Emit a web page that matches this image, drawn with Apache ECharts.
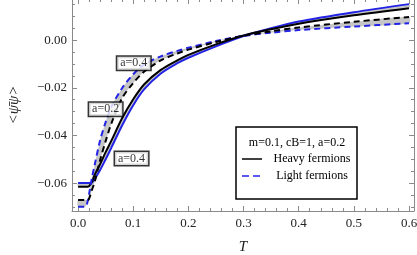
<!DOCTYPE html>
<html><head><meta charset="utf-8">
<script src="https://cdn.jsdelivr.net/npm/echarts@6/dist/echarts.min.js"></script>
<style>html,body{margin:0;padding:0;background:#fff}#c{width:417px;height:255px}</style>
</head><body><div id="c"></div>
<script>
const T        = [0, 0.013, 0.018, 0.02, 0.025, 0.03, 0.04, 0.05, 0.06, 0.08, 0.1, 0.12, 0.15, 0.18, 0.2, 0.25, 0.3, 0.35, 0.4, 0.5, 0.6];
const heavyA02 = [-0.0615, -0.0615, -0.0615, -0.0613, -0.0596, -0.0566, -0.052, -0.047, -0.0424, -0.0327, -0.0248, -0.0185, -0.0125, -0.0085, -0.0062, -0.0018, 0.0019, 0.0046, 0.0069, 0.0104, 0.0134];
const heavyA04 = [-0.0599, -0.0599, -0.0599, -0.0599, -0.0597, -0.0583, -0.0545, -0.050, -0.0453, -0.0357, -0.0273, -0.0206, -0.0140, -0.0097, -0.0074, -0.0026, 0.0017, 0.0050, 0.0078, 0.0117, 0.0151];
const lightA02 = [-0.0671, -0.0671, -0.0671, -0.0665, -0.063, -0.0596, -0.0503, -0.0424, -0.0352, -0.0243, -0.018, -0.0132, -0.0085, -0.0056, -0.0040, -0.0008, 0.0018, 0.0037, 0.0053, 0.0077, 0.0097];
const lightA04 = [-0.0699, -0.0699, -0.067, -0.0645, -0.058, -0.0525, -0.042, -0.0344, -0.0281, -0.0201, -0.0143, -0.0102, -0.0068, -0.0045, -0.0032, -0.0004, 0.0018, 0.0031, 0.0042, 0.0057, 0.0071];

const xMajorTicks = [0, 0.1, 0.2, 0.3, 0.4, 0.5, 0.6];
const xMinorTicks = [0.02,0.04,0.06,0.08,0.12,0.14,0.16,0.18,0.22,0.24,0.26,0.28,0.32,0.34,0.36,0.38,0.42,0.44,0.46,0.48,0.52,0.54,0.56,0.58];
const yMajorTicks = [-0.06, -0.04, -0.02, 0];
const yMinorTicks = [-0.07,-0.065,-0.055,-0.05,-0.045,-0.035,-0.03,-0.025,-0.015,-0.01,-0.005,0.005,0.01,0.015];
const curveLabels = [[0.101, -0.0097, 'a=0.4'], [0.05, -0.029, 'a=0.2'], [0.097, -0.0497, 'a=0.4']];
const legendTitle = 'm=0.1, cB=1, a=0.2';
const legendNames = ['Heavy fermions', 'Light fermions'];
const xTitle = 'T';
const yTitle = '<\u03C8\u0304\u03C8>';

const XMIN = -0.011, XMAX = 0.609, YMIN = -0.0717, YMAX = 0.01725;
const SERIF = 'Liberation Serif';
const FRAME = '#8a8a8a';
const BLUE = '#2323e6';
const BAND = '#c6c6c6';
const SMOOTH = 0.3;

const chart = echarts.init(document.getElementById('c'), null, {renderer:'canvas'});

function fmt(v){ const s = Math.abs(v).toFixed(2); return (v < -1e-9 ? '\u2212' : '') + s; }

function xAx(grid, pos, major){
  return {
    type:'value', gridIndex:grid, position:pos, min:XMIN, max:XMAX,
    axisLine:{show:major, onZero:false, lineStyle:{color:FRAME, width:1}},
    axisTick:{show:true, inside:true, length: major?5:3, customValues: major?xMajorTicks:xMinorTicks, lineStyle:{color:FRAME, width:1}},
    axisLabel:{show: major && pos==='bottom', customValues:xMajorTicks, formatter:v=>v.toFixed(1), fontFamily:SERIF, fontSize:13, color:'#222', margin:6},
    splitLine:{show:false},
    name: (major && pos==='bottom') ? xTitle : '',
    nameLocation:'middle', nameGap:29,
    nameTextStyle:{fontFamily:SERIF, fontStyle:'italic', fontSize:15, color:'#222'}
  };
}
function yAx(grid, pos, major){
  return {
    type:'value', gridIndex:grid, position:pos, min:YMIN, max:YMAX,
    axisLine:{show:major, onZero:false, lineStyle:{color:FRAME, width:1}},
    axisTick:{show:true, inside:true, length: major?5:3, customValues: major?yMajorTicks:yMinorTicks, lineStyle:{color:FRAME, width:1}},
    axisLabel:{show: major && pos==='left', customValues:yMajorTicks, formatter:fmt, fontFamily:SERIF, fontSize:13, color:'#222', margin:5},
    splitLine:{show:false},
    name: (major && pos==='left') ? yTitle : '',
    nameLocation:'middle', nameGap:50, nameRotate:90,
    nameTextStyle:{fontFamily:SERIF, fontStyle:'italic', fontSize:15, color:'#222'}
  };
}

const pts = arr => T.map((t,i)=>[t, arr[i]]);
const common = {type:'line', xAxisIndex:0, yAxisIndex:0, symbol:'none', showSymbol:false, smooth:SMOOTH, silent:true, z:3};

function band(a, b){
  return {
    type:'custom', xAxisIndex:0, yAxisIndex:0, silent:true, z:2, data:[[0, 0]],
    renderItem:(params, api)=>{
      const up = T.map((t,i)=>api.coord([t, a[i]]));
      const lo = T.map((t,i)=>api.coord([t, b[i]])).reverse();
      return {type:'polygon', shape:{points: up.concat(lo), smooth:SMOOTH}, style:{fill:BAND, stroke:null}};
    }
  };
}

const gridRect = {left:72, right:3, top:-1, bottom:44, containLabel:false, outerBoundsMode:'none'};

chart.setOption({
  animation:false,
  backgroundColor:'#fff',
  grid:[Object.assign({}, gridRect), Object.assign({}, gridRect)],
  xAxis:[xAx(0,'bottom',true), xAx(0,'top',true), xAx(1,'bottom',false), xAx(1,'top',false)],
  yAxis:[yAx(0,'left',true), yAx(0,'right',true), yAx(1,'left',false), yAx(1,'right',false)],
  series:[
    band(heavyA02, heavyA04),
    band(lightA02, lightA04),
    Object.assign({}, common, {data:pts(heavyA04), lineStyle:{color:BLUE, width:2}}),
    Object.assign({}, common, {data:pts(heavyA02), lineStyle:{color:'#000', width:2}}),
    Object.assign({}, common, {data:pts(lightA04), lineStyle:{color:BLUE, width:2, type:[6,4]}}),
    Object.assign({}, common, {data:pts(lightA02), lineStyle:{color:'#000', width:2, type:[6,4]}}),
    {type:'scatter', xAxisIndex:0, yAxisIndex:0, symbolSize:0, silent:true, z:10,
     data: curveLabels.map(d=>({value:[d[0], d[1]], name:d[2]})),
     label:{show:true, position:'inside', formatter:'{b}', fontFamily:SERIF, fontSize:12, color:'#000',
            backgroundColor:'#fff', borderColor:'#000', borderWidth:1.5, padding:[1,3,0,3]}}
  ],
  graphic:[
    {type:'rect', shape:{x:236, y:127, width:121, height:72}, style:{fill:'#fff', stroke:'#000', lineWidth:1.5}, z:20},
    {type:'text', x:297, y:143, style:{text:legendTitle, font:'12px "Liberation Serif"', fill:'#000', align:'center', verticalAlign:'middle'}, z:21},
    {type:'line', shape:{x1:242, y1:159, x2:262, y2:159}, style:{stroke:'#000', lineWidth:1.5}, z:21},
    {type:'text', x:312, y:159, style:{text:legendNames[0], font:'12px "Liberation Serif"', fill:'#000', align:'center', verticalAlign:'middle'}, z:21},
    {type:'line', shape:{x1:242, y1:176, x2:263, y2:176}, style:{stroke:BLUE, lineWidth:1.5, lineDash:[7,4]}, z:21},
    {type:'text', x:312, y:176, style:{text:legendNames[1], font:'12px "Liberation Serif"', fill:'#000', align:'center', verticalAlign:'middle'}, z:21}
  ]
});
</script>
</body></html>
